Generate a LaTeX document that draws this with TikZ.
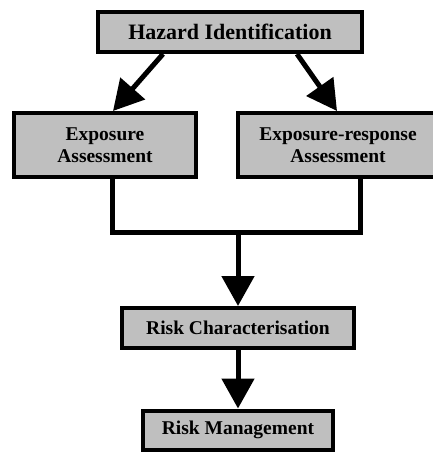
\documentclass[tikz,border=0pt]{standalone}
\usepackage{fontspec}
\setmainfont{Liberation Serif}
\usetikzlibrary{arrows.meta}

\tikzset{
  etapa/.style={draw=black, line width=4pt, fill=black!25, align=center,
    inner sep=0pt, font=\fontsize{19.5}{22}\selectfont\bfseries},
  conn/.style={line width=5pt, line join=miter},
  flecha/.style={conn, -{Triangle[length=30pt,width=32pt]}}
}

\begin{document}
\begin{tikzpicture}[x=1pt, y=-1pt]
  \useasboundingbox (0,0) rectangle (433,474);

  % --- cajas ---
  \node[etapa, minimum width=264, minimum height=40, font=\fontsize{22}{24}\selectfont\bfseries] (hazard) at (230,32) {Hazard Identification};
  \node[etapa, minimum width=182, minimum height=64] (expo) at (105,145) {Exposure\\Assessment};
  \node[etapa, minimum width=200, minimum height=64] (expresp) at (338,145) {Exposure-response\\Assessment};
  \node[etapa, minimum width=232, minimum height=40] (riskchar) at (238,328) {Risk Characterisation};
  \node[etapa, minimum width=190, minimum height=39] (riskman) at (238,430) {Risk Management};

  \coordinate (junta) at (238,232);

  % --- conectores ---
  \draw[flecha] ([xshift=-67]hazard.south) -- ([xshift=8]expo.north);
  \draw[flecha] ([xshift=67]hazard.south) -- ([xshift=-1]expresp.north);
  \draw[conn] ([xshift=7]expo.south) |- (junta) -| ([xshift=22]expresp.south);
  \draw[flecha] (junta) -- (riskchar.north);
  \draw[flecha] (riskchar.south) -- (riskman.north);
\end{tikzpicture}
\end{document}
